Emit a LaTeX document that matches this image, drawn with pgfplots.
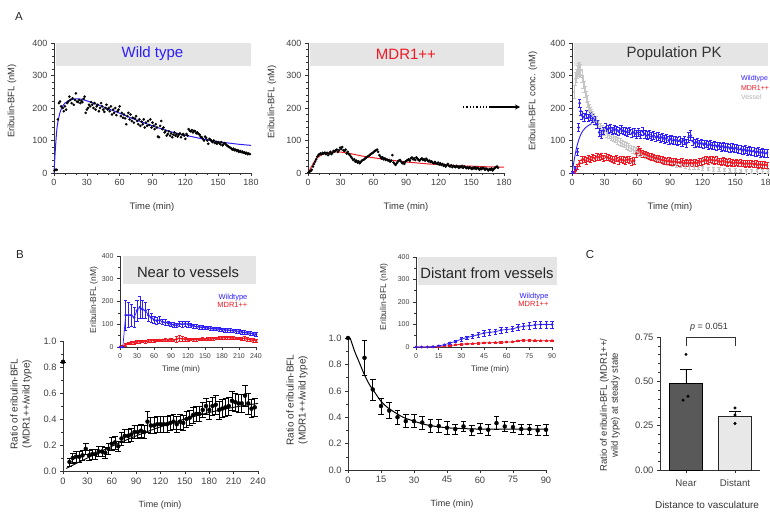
\documentclass[border=0pt]{standalone}
\usepackage{pgfplots}
\pgfplotsset{compat=1.18}
\usepackage{fontspec}
\setmainfont{Liberation Sans}
\usetikzlibrary{arrows.meta}
\definecolor{wtblue}{RGB}{45,30,250}
\definecolor{mdrred}{RGB}{240,25,35}
\definecolor{vgrey}{RGB}{198,198,198}
\definecolor{bandc}{RGB}{229,229,229}
\newcommand{\fs}[1]{\fontsize{#1}{#1}\selectfont}
\pgfplotsset{
  base/.style={scale only axis, axis lines=left, axis line style={-, draw=black!80, line width=0.7pt},
    tick align=outside, major tick length=3pt, minor tick length=1.6pt,
    tick style={draw=black!80, line width=0.6pt}, tick label style={text=black!75},
    /pgf/number format/assume math mode=true, clip=false},
  pa/.style={base, width=197pt, height=130pt, xmin=0, xmax=180, ymin=0, ymax=400,
    xtick={0,30,...,180}, ytick={0,100,...,400}, minor y tick num=4, minor x tick num=2,
    tick label style={font=\fs{9}}},
  pin/.style={base, width=136pt, height=90pt, ymin=0, ymax=400, ytick={0,100,...,400}, minor y tick num=1,
    tick label style={font=\fs{7}}},
  pb/.style={base, ymin=0, ymax=1, ytick={0,0.2,...,1.0}, minor y tick num=1,
    tick label style={font=\fs{9.3}},
    yticklabel style={/pgf/number format/.cd, fixed, fixed zerofill, precision=1}},
  errs/.style={error bars/.cd, y dir=both, y explicit, error bar style={line width=0.5pt},
    error mark options={rotate=90, mark size=1.6pt, line width=0.5pt}},
}
\begin{document}
\begin{tikzpicture}[x=1pt,y=1pt]
\useasboundingbox (0,0) rectangle (770,512);
% ---------------- Panel A left
\begin{axis}[pa, at={(54pt,339pt)}, anchor=south west]
\fill[bandc] (axis cs:1.5,330) rectangle (axis cs:180,400);
\node[text=wtblue, font=\fs{15}] at (axis cs:90,366) {Wild type};
\addplot[only marks, mark=*, mark size=1.1pt, black] coordinates {
(0.5,8)(1.5,10)(2.5,10)(3.5,165)(4.5,215)(5.5,220)(6.5,205)(8,200)(9,190)(10,205)(11,195)(12,215)(13,220)(14,235)(15,225)(16,215)(17,230)(18,210)(19,225)(20,245)(21,220)(22,218)(23,225)(24,215)(25,222)(26,218)(27,228)(28,235)(29,185)(30,195)(31,200)(32,210)(33,205)(34,218)(35,210)(36,200)(37,215)(38,195)(39,205)(40,210)(41,190)(42,200)(43,215)(44,205)(45,195)(46,188)(47,200)(48,210)(49,195)(50,200)(51,190)(52,205)(53,180)(54,195)(55,185)(56,200)(57,178)(58,190)(59,195)(60,205)(61,175)(62,185)(63,170)(64,180)(65,168)(66,150)(67,175)(68,185)(69,165)(70,180)(71,160)(72,170)(73,155)(74,168)(75,175)(76,160)(77,150)(78,165)(79,145)(80,158)(81,150)(82,165)(83,140)(84,155)(85,145)(86,160)(87,148)(88,165)(89,140)(90,155)(91,145)(92,135)(93,150)(94,140)(95,112)(96,110)(97,145)(98,160)(99,135)(100,140)(101,125)(102,130)(103,115)(104,120)(105,128)(106,115)(107,122)(108,110)(109,118)(110,125)(111,115)(112,120)(113,112)(114,118)(115,122)(116,110)(117,118)(118,120)(119,115)(120,105)(121,120)(122,115)(123,135)(124,130)(125,128)(126,132)(127,125)(128,130)(129,128)(130,122)(131,125)(132,120)(133,118)(134,112)(135,110)(136,105)(137,100)(138,112)(139,108)(140,100)(141,90)(142,105)(143,102)(144,98)(145,95)(146,100)(147,92)(148,96)(149,90)(150,95)(151,92)(152,88)(153,95)(154,85)(155,90)(156,92)(157,88)(158,85)(159,82)(160,80)(161,78)(162,75)(163,72)(164,75)(165,70)(166,72)(167,68)(168,70)(169,65)(170,68)(171,64)(172,66)(173,62)(174,64)(175,60)(176,62)(177,58)(178,60)(179,58)};
\addplot[wtblue, line width=1pt, smooth] coordinates {
(0,0)(1,60)(2,110)(3,145)(5,180)(7,200)(10,215)(15,225)(20,228)(25,227)(30,222)(40,210)(50,197)(60,184)(70,170)(80,157)(90,145)(100,134)(110,124)(120,116)(130,109)(140,102)(150,96)(160,92)(170,88)(180,85)};
\end{axis}
% ---------------- Panel A middle
\begin{axis}[pa, width=196pt, at={(308pt,339pt)}, anchor=south west]
\fill[bandc] (axis cs:1.5,330) rectangle (axis cs:180,400);
\node[text=mdrred, font=\fs{15}] at (axis cs:90,366) {MDR1++};
\addplot[only marks, mark=*, mark size=1.1pt, black] coordinates {
(0.5,2)(1.5,4)(2.5,6)(3.5,10)(4.5,20)(5.5,28)(6.5,35)(7.5,42)(8.5,50)(9.5,55)(10.5,58)(11.5,60)(12.5,58)(13.5,62)(14.5,60)(15.5,63)(16.5,58)(17.5,62)(18.5,55)(19.5,60)(20.5,65)(21.5,58)(22.5,62)(23.5,68)(24.5,66)(25.5,70)(26.5,72)(27.5,65)(28.5,70)(29.5,78)(30.5,74)(31.5,80)(32.5,70)(33.5,68)(34.5,72)(35.5,60)(36.5,65)(37.5,58)(38.5,55)(39.5,50)(40.5,45)(41.5,40)(42.5,42)(43.5,35)(44.5,38)(45.5,32)(46.5,36)(47.5,30)(48.5,34)(49.5,38)(50.5,40)(51.5,42)(52.5,45)(53.5,48)(54.5,50)(55.5,52)(56.5,55)(57.5,58)(58.5,60)(59.5,62)(60.5,65)(61.5,68)(62.5,70)(63.5,72)(64.5,65)(65.5,55)(66.5,50)(67.5,45)(68.5,48)(69.5,42)(70.5,45)(71.5,40)(72.5,42)(73.5,38)(74.5,40)(75.5,35)(76.5,38)(77.5,55)(78.5,32)(79.5,28)(80.5,25)(81.5,30)(82.5,35)(83.5,38)(84.5,40)(85.5,35)(86.5,30)(87.5,32)(88.5,28)(89.5,35)(90.5,38)(91.5,40)(92.5,42)(93.5,38)(94.5,45)(95.5,48)(96.5,42)(97.5,45)(98.5,40)(99.5,48)(100.5,44)(101.5,40)(102.5,38)(103.5,42)(104.5,45)(105.5,40)(106.5,42)(107.5,38)(108.5,44)(109.5,40)(110.5,36)(111.5,38)(112.5,34)(113.5,36)(114.5,32)(115.5,30)(116.5,34)(117.5,30)(118.5,28)(119.5,32)(120.5,26)(121.5,30)(122.5,25)(123.5,28)(124.5,22)(125.5,25)(126.5,20)(127.5,24)(128.5,28)(129.5,22)(130.5,20)(131.5,24)(132.5,18)(133.5,22)(134.5,20)(135.5,18)(136.5,22)(137.5,20)(138.5,16)(139.5,20)(140.5,18)(141.5,22)(142.5,16)(143.5,20)(144.5,18)(145.5,15)(146.5,18)(147.5,14)(148.5,18)(149.5,15)(150.5,12)(151.5,16)(152.5,14)(153.5,18)(154.5,12)(155.5,16)(156.5,14)(157.5,10)(158.5,15)(159.5,12)(160.5,16)(161.5,14)(162.5,10)(163.5,14)(164.5,12)(165.5,8)(166.5,12)(167.5,10)(168.5,14)(169.5,8)(170.5,12)(171.5,15)(172.5,18)(173.5,20)(174.5,16)};
\addplot[mdrred, line width=1pt, smooth] coordinates {
(0,0)(2,12)(5,30)(8,45)(12,55)(16,61)(20,64)(28,65)(35,62)(40,59)(50,52)(60,47)(70,42)(80,38)(90,34)(100,31)(110,28)(120,26)(130,24)(140,22)(150,21)(165,19)(180,18)};
\end{axis}
\draw[dotted, line width=1.3pt] (463,405) -- (492,405);
\draw[-{Stealth[length=5pt,width=5pt]}, line width=1.5pt] (490,405) -- (520,405);
% ---------------- Panel A right
\begin{axis}[pa, width=196pt, at={(572pt,339pt)}, anchor=south west]
\fill[bandc] (axis cs:1.5,330) rectangle (axis cs:180,400);
\node[text=black!80, font=\fs{15}] at (axis cs:93.7,366) {Population PK};
\addplot[vgrey, mark=*, mark size=1pt, only marks, errs] table[row sep=\\, y error=e] {
x y e\\ 2 250 20\\ 3 290 20\\ 4 300 20\\ 5 310 20\\ 6 318 20\\ 7 322 20\\ 8 315 20\\ 9 300 20\\ 10 280 20\\ 11 265 18\\ 12 250 18\\ 13 235 18\\ 14 220 18\\ 15 205 16\\ 16 195 16\\ 17 188 15\\ 18 180 15\\ 19 175 15\\ 20 170 14\\ 22 160 14\\ 24 150 12\\ 26 142 12\\ 28 135 12\\ 30 128 12\\ 32 122 12\\ 34 116 10\\ 36 112 10\\ 38 108 10\\ 40 104 10\\ 42 100 10\\ 44 96 10\\ 46 92 10\\ 48 88 10\\ 50 84 10\\ 52 80 10\\ 54 76 10\\ 56 72 10\\ 58 68 10\\ 60 65 10\\ 62 62 10\\ 64 58 8\\ 66 55 8\\ 68 52 8\\ 70 50 8\\ 72 48 8\\ 74 46 8\\ 76 44 8\\ 78 42 8\\ 80 40 8\\ 84 36 8\\ 88 33 8\\ 92 30 8\\ 96 27 8\\ 100 25 8\\ 104 23 8\\ 108 21 8\\ 112 19 6\\ 116 17 6\\ 120 15 6\\ 125 13 6\\ 130 12 6\\ 135 11 6\\ 140 10 6\\ 145 9 6\\ 150 8 6\\ 155 7 6\\ 160 6 6\\ 165 6 6\\ 170 5 6\\ 175 5 6\\ 180 4 6\\
};
\addplot[mdrred, mark=*, mark size=1.2pt, only marks, errs] table[row sep=\\, y error=e] {
x y e\\ 1 2 3\\ 3 5 5\\ 5 20 8\\ 7 30 10\\ 9 40 10\\ 11 42 10\\ 13 38 10\\ 15 45 10\\ 17 42 10\\ 19 48 10\\ 21 45 10\\ 23 50 10\\ 25 48 10\\ 27 52 10\\ 29 45 10\\ 31 50 10\\ 33 48 10\\ 35 45 10\\ 37 42 10\\ 39 40 10\\ 41 45 10\\ 43 38 10\\ 45 42 10\\ 47 40 10\\ 49 38 10\\ 51 42 10\\ 53 40 10\\ 55 35 10\\ 57 38 10\\ 59 60 10\\ 61 72 10\\ 63 65 10\\ 65 60 10\\ 67 58 10\\ 69 55 10\\ 71 52 10\\ 73 50 10\\ 75 48 10\\ 77 45 10\\ 79 44 10\\ 81 42 10\\ 83 40 10\\ 85 38 10\\ 87 36 10\\ 89 38 10\\ 91 35 10\\ 93 34 10\\ 95 36 10\\ 97 33 10\\ 99 32 10\\ 101 34 10\\ 103 30 10\\ 105 32 10\\ 107 30 10\\ 109 32 10\\ 111 30 10\\ 113 32 10\\ 115 30 10\\ 117 34 10\\ 119 35 10\\ 121 38 10\\ 123 40 10\\ 125 38 10\\ 127 42 10\\ 129 40 10\\ 131 38 10\\ 133 40 10\\ 135 36 10\\ 137 35 10\\ 139 38 10\\ 141 34 10\\ 143 32 10\\ 145 35 10\\ 147 32 10\\ 149 30 10\\ 151 33 10\\ 153 30 10\\ 155 32 10\\ 157 30 10\\ 159 28 10\\ 161 30 10\\ 163 28 10\\ 165 30 10\\ 167 27 10\\ 169 28 10\\ 171 25 10\\ 173 27 10\\ 175 25 10\\ 177 26 10\\ 179 24 10\\
};
\addplot[wtblue, mark=*, mark size=1.2pt, only marks, errs] table[row sep=\\, y error=e] {
x y e\\ 1 2 3\\ 3 15 6\\ 5 65 10\\ 6 140 12\\ 7 215 12\\ 8 190 12\\ 9 178 12\\ 11 172 12\\ 13 180 12\\ 15 170 12\\ 17 175 12\\ 19 168 12\\ 21 162 12\\ 23 150 12\\ 25 125 12\\ 27 118 12\\ 29 130 12\\ 31 140 12\\ 33 135 12\\ 35 138 12\\ 37 130 12\\ 39 135 12\\ 41 132 12\\ 43 128 12\\ 45 135 12\\ 47 130 12\\ 49 128 12\\ 51 125 12\\ 53 130 12\\ 55 122 12\\ 57 125 12\\ 59 120 12\\ 61 125 12\\ 63 118 12\\ 65 128 12\\ 67 120 12\\ 69 115 12\\ 71 118 12\\ 73 112 12\\ 75 115 12\\ 77 110 12\\ 79 112 12\\ 81 108 12\\ 83 110 12\\ 85 105 12\\ 87 108 12\\ 89 100 12\\ 91 105 12\\ 93 100 12\\ 95 102 12\\ 97 98 12\\ 99 100 12\\ 101 95 12\\ 103 100 12\\ 105 92 12\\ 107 110 15\\ 109 115 15\\ 111 98 12\\ 113 92 12\\ 115 95 12\\ 117 90 12\\ 119 92 12\\ 121 88 12\\ 123 90 12\\ 125 85 12\\ 127 88 12\\ 129 84 12\\ 131 85 12\\ 133 82 12\\ 135 84 12\\ 137 80 12\\ 139 82 12\\ 141 78 12\\ 143 80 12\\ 145 76 12\\ 147 78 12\\ 149 75 12\\ 151 77 12\\ 153 72 12\\ 155 74 12\\ 157 70 12\\ 159 72 12\\ 161 68 12\\ 163 70 12\\ 165 66 12\\ 167 68 12\\ 169 64 12\\ 171 66 12\\ 173 62 12\\ 175 64 12\\ 177 60 12\\ 179 62 12\\
};
\addplot[wtblue, line width=0.9pt, smooth] coordinates {(0,0)(2,40)(4,75)(6,100)(8,118)(10,130)(12,138)(15,146)(18,152)};
\node[anchor=west, text=wtblue, font=\fs{7}] at (axis cs:152,289) {Wildtype};
\node[anchor=west, text=mdrred, font=\fs{7}] at (axis cs:152,261) {MDR1++};
\node[anchor=west, text=vgrey!90!black, font=\fs{7}] at (axis cs:152,234) {Vessel};
\end{axis}
% A labels
\node[font=\fs{11.5}, text=black!85] at (19,495) {A};
\node[rotate=90, font=\fs{9.4}, text=black!80] at (12,411) {Eribulin-BFL (nM)};
\node[font=\fs{9.4}, text=black!80] at (152,305) {Time (min)};
\node[rotate=90, font=\fs{9.4}, text=black!80] at (272,410) {Eribulin-BFL (nM)};
\node[font=\fs{9.4}, text=black!80] at (406,305) {Time (min)};
\node[rotate=90, font=\fs{9.4}, text=black!80] at (533,411) {Eribulin-BFL conc. (nM)};
\node[font=\fs{9.4}, text=black!80] at (670,305) {Time (min)};
% ---------------- Panel B left main
\begin{axis}[pb, width=195pt, height=130pt, at={(63pt,41pt)}, anchor=south west, xmin=0, xmax=240, xtick={0,30,...,240}]
\addplot[black, line width=0.9pt, smooth] coordinates {(4,0.02)(30,0.10)(60,0.19)(90,0.27)(120,0.34)(150,0.40)(180,0.45)(210,0.49)(240,0.52)};
\addplot[black, only marks, mark=*, mark size=2pt, error bars/.cd, y dir=both, y explicit, error bar style={line width=0.6pt}, error mark options={rotate=90, mark size=2.8pt, line width=0.6pt}] table[row sep=\\, y error=e] {
x y e\\ 0 0.84 0\\ 8 0.07 0.03\\ 12 0.10 0.04\\ 16 0.11 0.04\\ 20 0.11 0.04\\ 24 0.12 0.04\\ 28 0.17 0.04\\ 32 0.12 0.04\\ 36 0.13 0.04\\ 40 0.13 0.04\\ 44 0.15 0.04\\ 48 0.15 0.04\\ 52 0.14 0.04\\ 56 0.17 0.04\\ 60 0.21 0.05\\ 64 0.22 0.05\\ 68 0.19 0.04\\ 72 0.25 0.05\\ 76 0.27 0.05\\ 80 0.27 0.05\\ 84 0.28 0.05\\ 88 0.30 0.05\\ 92 0.30 0.05\\ 96 0.31 0.05\\ 100 0.30 0.05\\ 104 0.38 0.08\\ 108 0.35 0.06\\ 112 0.35 0.06\\ 116 0.36 0.06\\ 120 0.36 0.06\\ 124 0.36 0.06\\ 128 0.36 0.06\\ 132 0.37 0.06\\ 136 0.38 0.06\\ 140 0.36 0.06\\ 144 0.38 0.06\\ 148 0.37 0.06\\ 152 0.40 0.06\\ 156 0.41 0.06\\ 160 0.43 0.06\\ 164 0.44 0.06\\ 168 0.44 0.06\\ 172 0.47 0.06\\ 176 0.50 0.06\\ 180 0.47 0.07\\ 184 0.50 0.07\\ 188 0.51 0.07\\ 192 0.47 0.07\\ 196 0.48 0.07\\ 200 0.49 0.07\\ 204 0.50 0.07\\ 208 0.54 0.07\\ 212 0.53 0.07\\ 216 0.52 0.07\\ 220 0.52 0.07\\ 224 0.58 0.08\\ 228 0.52 0.08\\ 232 0.48 0.07\\ 236 0.49 0.07\\
};
\end{axis}
% ---------------- Panel B left inset
\begin{axis}[pin, at={(120pt,165pt)}, anchor=south west, height=91pt, xmin=0, xmax=240, xtick={0,30,...,240}]
\fill[bandc] (axis cs:5,275) rectangle (axis cs:240,400);
\node[font=\fs{14.8}, text=black!85] at (axis cs:120,328) {Near to vessels};
\addplot[mdrred, mark=*, mark size=1pt, line width=0.7pt, errs] table[row sep=\\, y error=e] {
x y e\\ 0 0 0\\ 5 3 3\\ 10 10 5\\ 15 15 5\\ 20 18 6\\ 25 20 6\\ 30 22 6\\ 35 24 6\\ 40 25 6\\ 45 24 6\\ 50 26 6\\ 55 28 6\\ 60 28 6\\ 65 30 6\\ 70 30 6\\ 75 30 6\\ 80 32 6\\ 85 30 6\\ 90 32 6\\ 95 30 6\\ 100 35 12\\ 105 38 12\\ 110 36 12\\ 115 34 8\\ 120 32 8\\ 125 34 6\\ 130 32 6\\ 135 33 6\\ 140 34 6\\ 145 35 6\\ 150 34 6\\ 155 36 6\\ 160 35 6\\ 165 37 6\\ 170 38 6\\ 175 40 6\\ 180 40 6\\ 185 42 6\\ 190 42 6\\ 195 40 6\\ 200 40 6\\ 205 38 6\\ 210 38 6\\ 215 36 6\\ 220 38 8\\ 225 35 8\\ 230 32 8\\ 235 30 8\\ 240 28 8\\
};
\addplot[wtblue, mark=*, mark size=1pt, line width=0.7pt, errs] table[row sep=\\, y error=e] {
x y e\\ 0 0 0\\ 5 0 0\\ 10 140 65\\ 15 140 55\\ 20 140 50\\ 25 130 45\\ 30 160 45\\ 35 175 50\\ 40 165 40\\ 45 160 35\\ 50 140 25\\ 55 130 20\\ 60 120 15\\ 65 115 15\\ 70 118 15\\ 75 110 12\\ 80 108 12\\ 85 105 10\\ 90 100 10\\ 95 98 10\\ 100 95 10\\ 105 102 12\\ 110 100 12\\ 115 102 12\\ 120 100 12\\ 125 95 10\\ 130 92 8\\ 135 90 8\\ 140 88 8\\ 145 86 8\\ 150 85 8\\ 155 84 8\\ 160 82 8\\ 165 80 8\\ 170 80 8\\ 175 78 8\\ 180 76 8\\ 185 75 8\\ 190 74 8\\ 195 73 8\\ 200 72 8\\ 205 70 8\\ 210 68 8\\ 215 66 8\\ 220 64 8\\ 225 62 8\\ 230 60 8\\ 235 58 8\\ 240 55 8\\
};
\node[anchor=east, text=wtblue, font=\fs{7.5}] at (axis cs:231,218) {Wildtype};
\node[anchor=east, text=mdrred, font=\fs{7.5}] at (axis cs:231,183) {MDR1++};
\end{axis}
% ---------------- Panel B right main
\begin{axis}[pb, width=198pt, height=132pt, at={(348pt,42pt)}, anchor=south west, xmin=0, xmax=90, xtick={0,15,...,90}]
\addplot[black, line width=1pt, smooth] coordinates {(1,1.0)(3,0.90)(5,0.82)(7.5,0.72)(10,0.64)(12.5,0.58)(15,0.52)(17.5,0.48)(20,0.45)(25,0.40)(30,0.37)(35,0.345)(40,0.33)(45,0.32)(50,0.315)(60,0.31)(70,0.31)(80,0.31)(90,0.31)};
\addplot[black, only marks, mark=*, mark size=2pt, error bars/.cd, y dir=both, y explicit, error bar style={line width=0.6pt}, error mark options={rotate=90, mark size=2.8pt, line width=0.6pt}] table[row sep=\\, y error=e] {
x y e\\ 0 1.0 0\\ 7.5 0.85 0.13\\ 11.25 0.61 0.08\\ 15 0.485 0.06\\ 18.75 0.45 0.06\\ 22.5 0.40 0.05\\ 26.25 0.37 0.05\\ 30 0.37 0.05\\ 33.75 0.36 0.05\\ 37.5 0.335 0.05\\ 41.25 0.333 0.05\\ 45 0.32 0.05\\ 48.75 0.31 0.04\\ 52.5 0.33 0.04\\ 56.25 0.30 0.04\\ 60 0.315 0.04\\ 63.75 0.305 0.04\\ 67.5 0.355 0.05\\ 71.25 0.33 0.04\\ 75 0.325 0.04\\ 78.75 0.31 0.04\\ 82.5 0.31 0.04\\ 86.25 0.30 0.04\\ 90 0.305 0.04\\
};
\end{axis}
% ---------------- Panel B right inset
\begin{axis}[pin, at={(416pt,165pt)}, anchor=south west, xmin=0, xmax=90, xtick={0,15,...,90}]
\fill[bandc] (axis cs:1.5,275) rectangle (axis cs:93.5,400);
\node[font=\fs{14.8}, text=black!85] at (axis cs:47,330) {Distant from vessels};
\addplot[mdrred, mark=*, mark size=1pt, line width=0.7pt, errs] table[row sep=\\, y error=e] {
x y e\\ 0 0 0\\ 3.75 0 0\\ 7.5 0 0\\ 11.25 0 0\\ 15 2 1\\ 18.75 4 2\\ 22.5 6 2\\ 26.25 10 2\\ 30 12 3\\ 33.75 14 3\\ 37.5 15 3\\ 41.25 17 3\\ 45 18 3\\ 48.75 19 3\\ 52.5 20 3\\ 56.25 21 3\\ 60 22 3\\ 63.75 23 3\\ 67.5 27 3\\ 71.25 30 3\\ 75 30 3\\ 78.75 29 3\\ 82.5 28 3\\ 86.25 28 3\\ 90 28 3\\
};
\addplot[wtblue, mark=*, mark size=1pt, line width=0.7pt, errs] table[row sep=\\, y error=e] {
x y e\\ 0 0 0\\ 3.75 0 0\\ 7.5 0 0\\ 11.25 2 2\\ 15 5 3\\ 18.75 10 4\\ 22.5 18 5\\ 26.25 25 6\\ 30 35 8\\ 33.75 42 8\\ 37.5 48 10\\ 41.25 55 12\\ 45 62 12\\ 48.75 65 12\\ 52.5 68 12\\ 56.25 75 12\\ 60 78 12\\ 63.75 80 12\\ 67.5 88 14\\ 71.25 92 15\\ 75 95 15\\ 78.75 98 15\\ 82.5 100 15\\ 86.25 100 15\\ 90 100 15\\
};
\node[anchor=east, text=wtblue, font=\fs{7.5}] at (axis cs:90,225) {Wildtype};
\node[anchor=east, text=mdrred, font=\fs{7.5}] at (axis cs:90,190) {MDR1++};
\end{axis}
% B labels
\node[font=\fs{11.5}, text=black!85] at (20,257) {B};
\node[rotate=90, font=\fontsize{10}{12}\selectfont, text=black!80, align=center] at (21,108) {Ratio of eribulin-BFL\\(MDR1++/wild type)};
\node[font=\fs{9}, text=black!80] at (160,7) {Time (min)};
\node[rotate=90, font=\fs{8.5}, text=black!80] at (94,212) {Eribulin-BFL (nM)};
\node[font=\fs{8}, text=black!80] at (181,143) {Time (min)};
\node[rotate=90, font=\fontsize{10}{12}\selectfont, text=black!80, align=center] at (297,112) {Ratio of eribulin-BFL\\(MDR1++/wild type)};
\node[font=\fs{9}, text=black!80] at (452,8) {Time (min)};
\node[rotate=90, font=\fs{8.5}, text=black!80] at (384,215) {Eribulin-BFL (nM)};
\node[font=\fs{8}, text=black!80] at (490,143) {Time (min)};
% ---------------- Panel C
\begin{axis}[base, width=99.5pt, height=133pt, at={(660pt,42pt)}, anchor=south west, xmin=-0.53, xmax=1.5, ymin=0, ymax=0.75,
  ytick={0,0.25,0.5,0.75}, minor y tick num=4, xtick={0,1}, xticklabels={Near,Distant},
  tick label style={font=\fs{9.4}}, xticklabel style={yshift=-3pt, font=\fs{9.7}},
  yticklabel style={/pgf/number format/.cd, fixed, fixed zerofill, precision=2}]
\addplot[ybar, bar width=33pt, fill=black!65, draw=black, line width=0.7pt, error bars/.cd, y dir=plus, y explicit, error bar style={line width=0.7pt}, error mark options={rotate=90, mark size=6pt, line width=0.7pt}] coordinates {(0,0.488) +- (0,0.082)};
\addplot[ybar, bar width=33pt, fill=black!9, draw=black!85, line width=0.7pt, error bars/.cd, y dir=plus, y explicit, error bar style={line width=0.7pt}, error mark options={rotate=90, mark size=6pt, line width=0.7pt}] coordinates {(1,0.304) +- (0,0.029)};
\addplot[only marks, mark=*, mark size=1.3pt, black] coordinates {(0,0.652)(-0.06,0.394)(0.04,0.416)(1,0.35)(1,0.31)(1,0.262)};
\draw[black!80, line width=0.7pt] (axis cs:0,0.70) -- (axis cs:0,0.75) -- (axis cs:1,0.75) -- (axis cs:1,0.70);
\node[font=\fs{9}, text=black!80] at (axis cs:0.47,0.805) {\textit{p} = 0.051};
\end{axis}
\node[font=\fs{11.5}, text=black!85] at (590,257) {C};
\node[rotate=90, font=\fontsize{9.5}{11}\selectfont, text=black!80, align=center] at (610,107) {Ratio of eribulin-BFL (MDR1++/\\wild type) at steady state};
\node[font=\fs{10}, text=black!80] at (707,7) {Distance to vasculature};
\end{tikzpicture}
\end{document}
